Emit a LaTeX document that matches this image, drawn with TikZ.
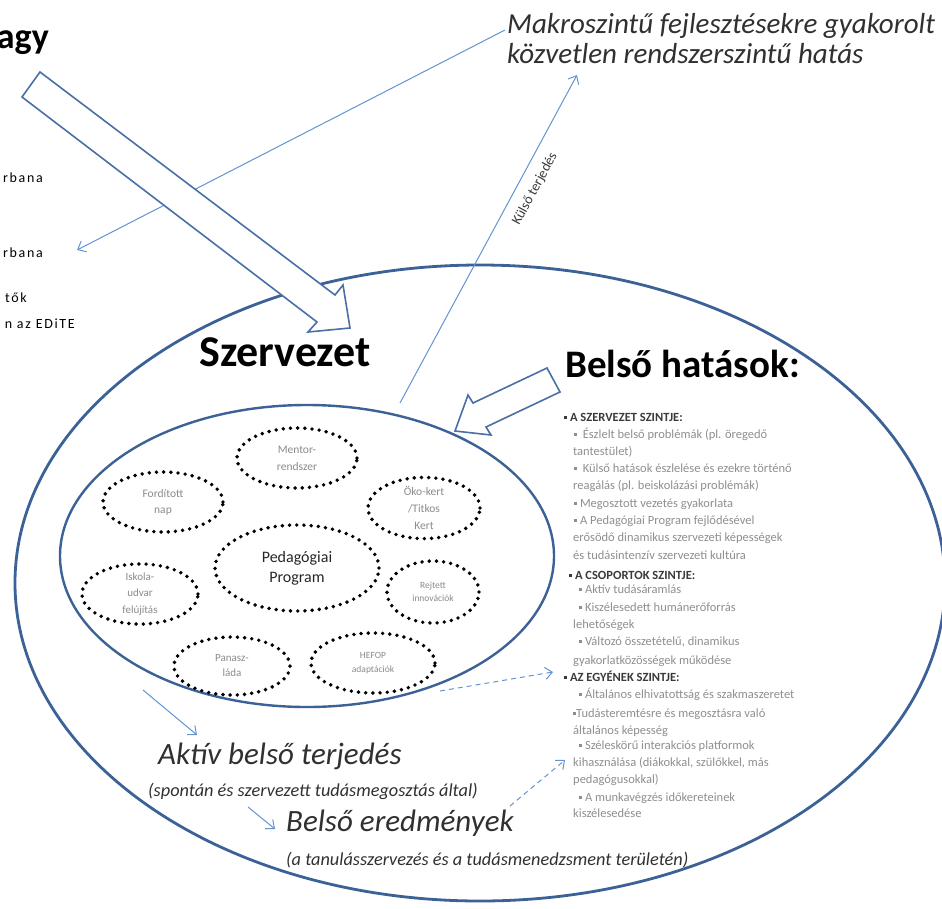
\documentclass[tikz,border=0pt]{standalone}
\usepackage{fontspec}
\setmainfont{Carlito}
\usetikzlibrary{arrows.meta,shapes.geometric}

\definecolor{ringblue}{HTML}{3B6196}
\definecolor{arrowblue}{HTML}{4A6FA6}
\definecolor{lineblue}{HTML}{6394D2}
\definecolor{itemgray}{HTML}{8E8E8E}
\definecolor{headgray}{HTML}{3A3A3A}
\definecolor{ovalgray}{HTML}{8A8A8A}
\definecolor{textdark}{HTML}{262626}
\definecolor{italicgray}{HTML}{303030}

\newcommand\setfs[2]{\fontsize{#1}{#2}\selectfont}
\newcommand\sqb{\rule[0.28ex]{0.5ex}{0.5ex}}
\newcommand\lvlhead[1]{{\color{headgray}\bfseries\sqb\ #1}}

\begin{document}
\begin{tikzpicture}[x=1pt,y=-1pt,
  ring/.style={draw=ringblue, line width=2.8pt},
  blockarrow/.style={draw=arrowblue, line width=1.6pt, fill=white, line join=miter},
  thinarrow/.style={draw=lineblue, line width=1pt, -{Straight Barb[length=7pt,width=12pt,line width=1pt]}},
  dasharrow/.style={thinarrow, dash pattern=on 5pt off 4pt},
  dotoval/.style={ellipse, draw=black, line width=3.9pt, dash pattern=on 0pt off 7.2pt,
    line cap=round, inner sep=0pt, align=center, text=ovalgray},
  item/.style={anchor=base west, inner sep=0pt, text=itemgray, font=\setfs{12.5}{14}},
  sidetext/.style={anchor=base east, inner sep=0pt, font=\addfontfeature{LetterSpace=12}\setfs{14}{16}},
  bigit/.style={anchor=base west, inner sep=0pt, text=italicgray, font=\itshape\setfs{31}{34}},
  smallit/.style={anchor=base west, inner sep=0pt, text=italicgray, font=\itshape\setfs{18.3}{20}}
]
\useasboundingbox (0,0) rectangle (942,908);
\clip (0,0) rectangle (942,908);

% the organisation and its inner core
\draw[ring] (480,583) ellipse [x radius=465, y radius=318];
\draw[ring, line width=2.4pt] (307,556) ellipse [x radius=247, y radius=151];

% headings and the macro-level caption
\node[anchor=base east, inner sep=0pt, font=\bfseries\setfs{36}{40}] (nagy) at (49,48) {agy};
\node[anchor=base west, inner sep=0pt, text=italicgray, font=\itshape\setfs{29}{30}] (macro) at (507,33)
  {Makroszintű fejlesztésekre gyakorolt};
\node[anchor=base west, inner sep=0pt, text=italicgray, font=\itshape\setfs{29}{30}] (macro2) at (507,63)
  {közvetlen rendszerszintű hatás};
\node[anchor=base west, inner sep=0pt, font=\bfseries\setfs{44}{48}] (szerv) at (199,366) {Szervezet};
\node[anchor=base west, inner sep=0pt, font=\bfseries\setfs{39}{42}] (belso) at (565,377) {Belső hatások:};

% fragments of the left-hand column
\node[sidetext] (l1) at (43,182) {rbana};
\node[sidetext] (l2) at (43,257) {rbana};
\node[sidetext] (l3) at (27,302) {tők};
\node[sidetext] (l4) at (75,328) {n az EDiTE};

% macro-level feedback arrow, drawn beneath the block arrow
\coordinate (macroend) at (505,30);
\coordinate (leftend) at (77,250);
\draw[thinarrow] (macroend) -- (leftend);

% block arrow from the top-left into the organisation
\draw[blockarrow] (40,72) -- (335,295) -- (343,285) -- (350,328) -- (308,332) -- (317,322) -- (22,97) -- cycle;

% block arrow of the internal effects
\draw[blockarrow] (547,368) -- (473,403) -- (468,395) -- (455,431) -- (491,435) -- (486,427) -- (560,392) -- cycle;

% external spread
\coordinate (kstart) at (400,403);
\coordinate (kend) at (577,75);
\draw[thinarrow] (kstart) -- (kend);
\node[inner sep=0pt, rotate=61.6, text=headgray, font=\setfs{14}{16}] (kulso) at (535,189) {Külső terjedés};

% initiatives inside the core
\node[dotoval, minimum width=120pt, minimum height=60pt, font=\setfs{11.5}{17}] (mentor) at (297,458) {Mentor-\\rendszer};
\node[dotoval, minimum width=120pt, minimum height=60pt, font=\setfs{11.5}{16}] (ford) at (163,502) {Fordított\\nap};
\node[dotoval, minimum width=112pt, minimum height=60pt, font=\setfs{11.5}{17}] (oko) at (424,508) {Öko-kert\\/Titkos\\Kert};
\node[dotoval, minimum width=164pt, minimum height=86pt, text=textdark, font=\setfs{16}{20}] (pedprog) at (297,568) {Pedagógiai\\Program};
\node[dotoval, minimum width=116pt, minimum height=58pt, font=\setfs{11}{16.5}] (iskola) at (140,594) {Iskola-\\udvar\\felújítás};
\node[dotoval, minimum width=92pt, minimum height=62pt, font=\setfs{9.5}{12.5}] (rejtett) at (433,592) {Rejtett\\innovációk};
\node[dotoval, minimum width=116pt, minimum height=58pt, font=\setfs{11}{15}] (panasz) at (232,666) {Panasz-\\láda};
\node[dotoval, minimum width=124pt, minimum height=60pt, font=\setfs{9.5}{14}] (hefop) at (373,663) {HEFOP\\adaptációk};

% internal spread and results
\node[bigit] (aktiv) at (158,764) {Aktív belső terjedés};
\node[smallit] (spont) at (148,796) {(spontán és szervezett tudásmegosztás által)};
\node[bigit] (eredm) at (286,831) {Belső eredmények};
\node[smallit] (tanul) at (286,865) {(a tanulásszervezés és a tudásmenedzsment területén)};

\coordinate (a1s) at (143,690);
\coordinate (a1e) at (197,735);
\draw[thinarrow] (a1s) -- (a1e);
\coordinate (a2s) at (248,807);
\coordinate (a2e) at (275,829);
\draw[thinarrow] (a2s) -- (a2e);
\coordinate (d1s) at (440,691);
\coordinate (d1e) at (553,672);
\draw[dasharrow] (d1s) -- (d1e);
\coordinate (d2s) at (510,806);
\coordinate (d2e) at (565,760);
\draw[dasharrow] (d2s) -- (d2e);

% levels of the internal effects
\foreach \n/\xx/\yy/\txt in {
  h1/564/421/{\lvlhead{A SZERVEZET SZINTJE:}},
  i1/574/438/{\sqb\ \ Észlelt belső problémák (pl. öregedő},
  i2/573/455/{tantestület)},
  i3/574/472/{\sqb\ \ Külső hatások észlelése és ezekre történő},
  i4/573/489/{reagálás (pl. beiskolázási problémák)},
  i5/574/507/{\sqb\ Megosztott vezetés gyakorlata},
  i6/574/524/{\sqb\ A Pedagógiai Program fejlődésével},
  i7/573/541/{erősödő dinamikus szervezeti képességek},
  i8/573/559/{és tudásintenzív szervezeti kultúra},
  h2/569/579/{\lvlhead{A CSOPORTOK SZINTJE:}},
  i9/579/593/{\sqb\ Aktív tudásáramlás},
  i10/579/611/{\sqb\ Kiszélesedett humánerőforrás},
  i11/573/628/{lehetőségek},
  i12/579/645/{\sqb\ Változó összetételű, dinamikus},
  i13/573/664/{gyakorlatközösségek működése},
  h3/564/681/{\lvlhead{AZ EGYÉNEK SZINTJE:}},
  i14/579/698/{\sqb\ Általános elhivatottság és szakmaszeretet},
  i15/573/717/{\sqb Tudásteremtésre és megosztásra való},
  i16/573/734/{általános képesség},
  i17/579/749/{\sqb\ Széleskörű interakciós platformok},
  i18/573/766/{kihasználása (diákokkal, szülőkkel, más},
  i19/573/783/{pedagógusokkal)},
  i20/579/801/{\sqb\ A munkavégzés időkereteinek},
  i21/573/817/{kiszélesedése}}
  \node[item, name=\n] at (\xx,\yy) {\txt};
\end{tikzpicture}
\end{document}
